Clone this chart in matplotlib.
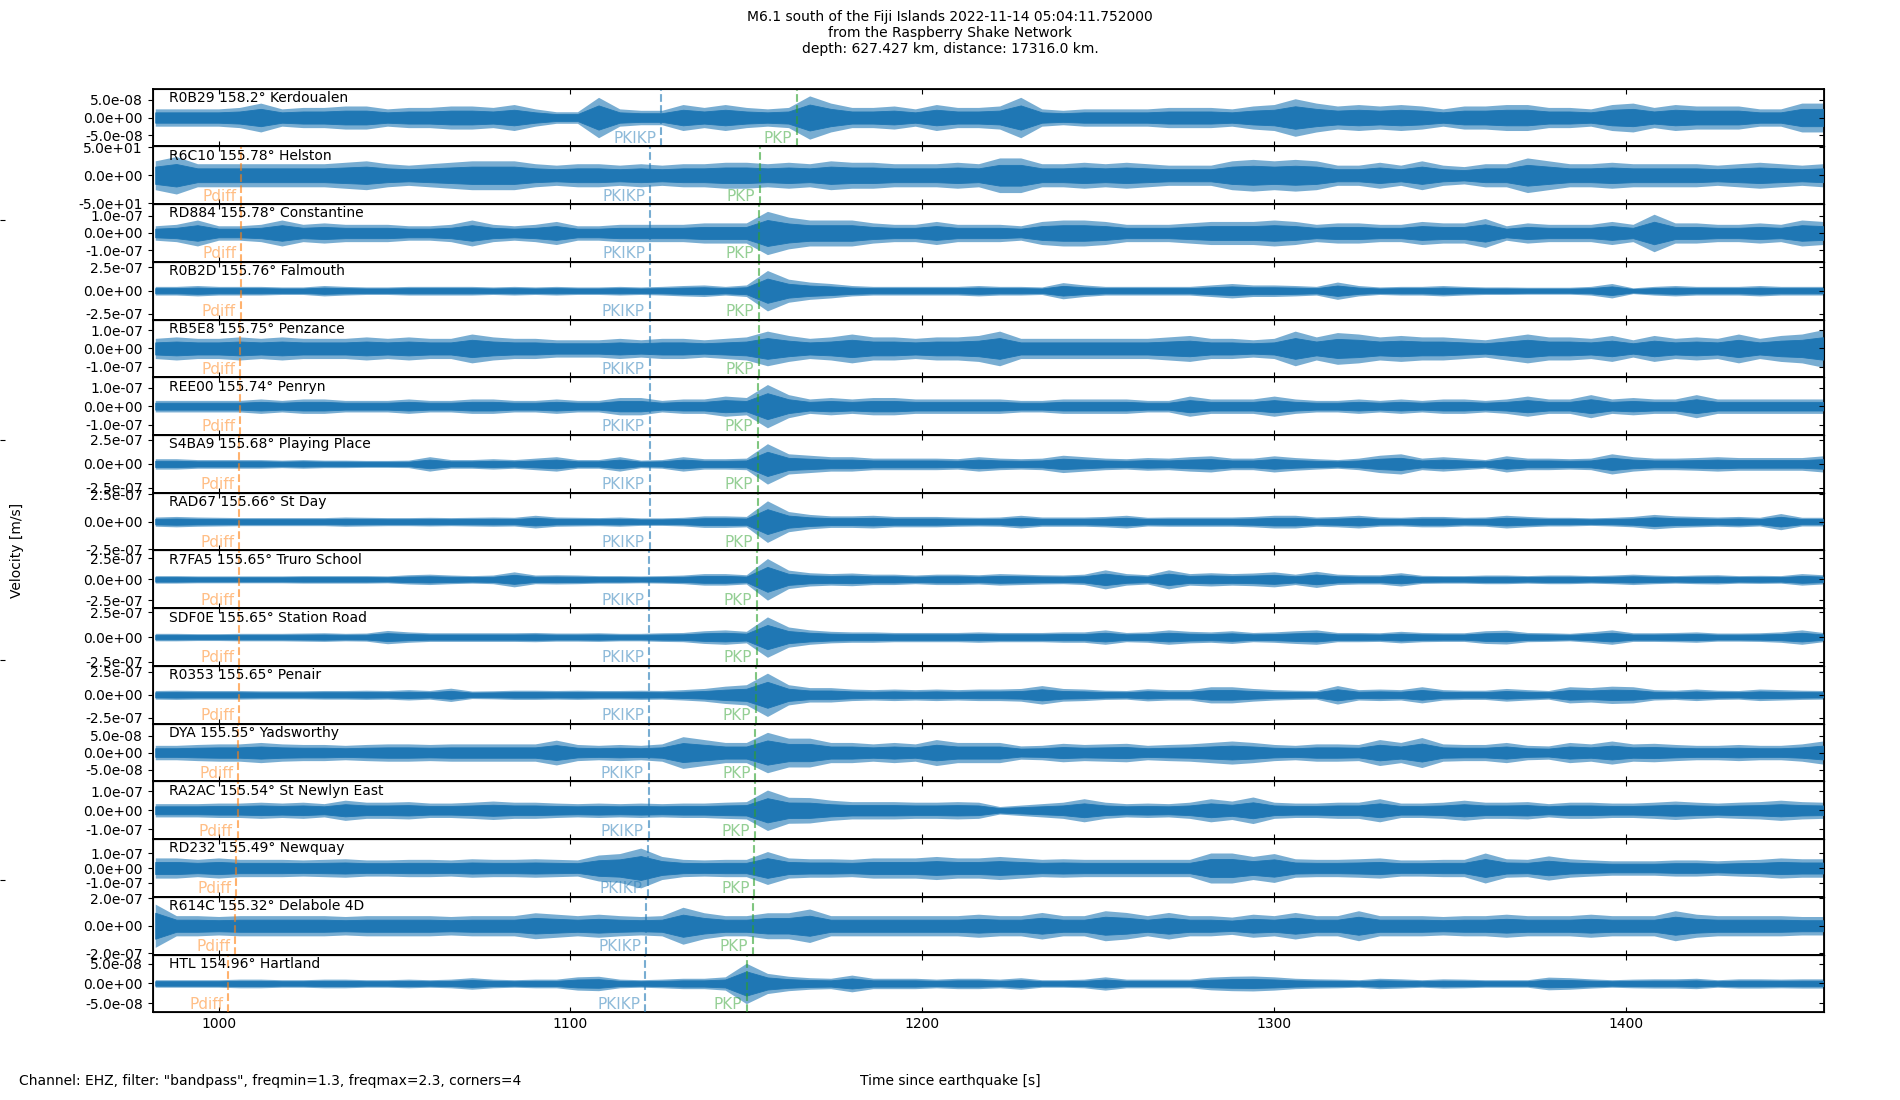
import numpy as np
import matplotlib
matplotlib.use("Agg")
import matplotlib.pyplot as plt
from matplotlib.ticker import FuncFormatter

# ---------------- data ----------------
station_labels = [
    "R0B29 158.2° Kerdoualen", "R6C10 155.78° Helston", "RD884 155.78° Constantine",
    "R0B2D 155.76° Falmouth", "RB5E8 155.75° Penzance", "REE00 155.74° Penryn",
    "S4BA9 155.68° Playing Place", "RAD67 155.66° St Day", "R7FA5 155.65° Truro School",
    "SDF0E 155.65° Station Road", "R0353 155.65° Penair", "DYA 155.55° Yadsworthy",
    "RA2AC 155.54° St Newlyn East", "RD232 155.49° Newquay", "R614C 155.32° Delabole 4D",
    "HTL 154.96° Hartland",
]

# labelled y tick value (+/-) and axis half-range per trace
ytick_value = [5e-8, 50, 1e-7, 2.5e-7, 1e-7, 1e-7, 2.5e-7, 2.5e-7, 2.5e-7, 2.5e-7,
               2.5e-7, 5e-8, 1e-7, 1e-7, 2e-7, 5e-8]
y_half_range = [8.15e-8, 52, 1.68e-7, 3.1e-7, 1.59e-7, 1.56e-7, 3.0e-7, 2.63e-7, 3.43e-7,
                2.9e-7, 3.13e-7, 8.5e-8, 1.51e-7, 1.96e-7, 2.1e-7, 7.25e-8]

# phase arrival times [s] (None = not shown)
pdiff_time = [None, 1006.5, 1006.4, 1006.3, 1006.2, 1006.1, 1005.9, 1005.9, 1005.8,
              1005.8, 1005.8, 1005.5, 1005.4, 1005.0, 1004.7, 1002.8]
pkikp_time = [1125.8, 1122.6, 1122.6, 1122.5, 1122.5, 1122.5, 1122.5, 1122.5, 1122.4,
              1122.4, 1122.4, 1122.2, 1122.2, 1122.0, 1121.6, 1121.3]
pkp_time = [1164.5, 1153.9, 1153.6, 1153.5, 1153.5, 1153.4, 1153.2, 1153.2, 1153.1,
            1153.1, 1152.8, 1152.6, 1152.5, 1152.3, 1151.8, 1150.1]

# sample times of the envelope readings [s]
sample_times = list(range(982, 1457, 6))

# peak amplitude envelopes, in tenths of each axis half-range
env_R0B29 = [3,3,3,3,3.5,5,3,3.5,3.5,4, 4,3,3.5,3.5,4,4,3.5,4.5,3,2, 2,7,3,2.5,2.5,4.5,3.5,4.5,3.5,3,
             3.5,7.5,5,3.5,3.5,4,3,4.5,3.5,3.5,4,
             7,3,2.5,3,3,3,3,3.5,3.5,3.5, 3,4,4.5,6.5,5,4,4.5,4,4.5,4, 3,4,4,4.5,4.5,3.5,3.5,3,4.5,5,
             3.5,4.5,4,4,4,3,3,5,5]
env_R6C10 = [5,6.5,4,4,4,4,4,4,4,4.5, 5,4,3.5,4,4.5,5,5,5,4,3.5, 4,4,3.5,4,3.5,4,4,4.5,4.5,4,
             4.5,4,5,4.5,4.5,4,4,4,4.5,4,6,
             6,4,4,4.5,4,4.5,4,3.5,3.5,3.5, 5,5.5,5,5.5,5,3.5,3.5,4.5,3.5,5, 3.5,3,4,4,6,5,4,4,4.5,4,
             4,4,4,3.5,4,4.5,4,3.5,4]
env_RD884 = [2.5,3,4.5,2.5,2.5,3,4.5,3,3.5,3, 3,3,2.5,2.5,3,4.5,3,2.5,3,4, 2.5,2.5,3,3,3,3,3.5,3.5,3.5,7.5,
             5.5,4.5,4.5,4.5,3.5,3,3,4,3,3,3,
             2.5,4,4.5,4.5,4,3,3,3,3.5,4, 4,4,4.5,4,3,3.5,3.5,3,3,4, 3.5,3.5,5,2.5,3.5,3,3,3,4,3,
             6.5,3.5,3.5,3,3,3.5,3,4.5,4]
env_R0B2D = [1.5,1.5,1.8,1.5,1.5,1.5,1.3,1.3,1.8,1.5, 1.3,1.3,1.5,1.5,1.5,1.5,1.3,1.5,1.3,1.5,
             1.3,1.3,1.5,1.3,1.5,1.8,2,1.5,2,7, 4,3,2.5,1.8,1.5,1.5,1.5,1.5,1.5,1.8,1.5,
             1.5,1.3,2.8,2,1.5,1.5,1.5,1.5,1.5,2, 2.5,2,2,1.8,1.5,3,1.8,1.3,1.5,1.5,
             1.8,1.5,1.3,1.3,1.2,1.2,1.2,1.5,2.5,1, 1.5,1.8,1.5,1.5,1.5,1.8,1.5,1.5,1.5]
env_RB5E8 = [3.5,4,3.5,3.5,4,3.5,4,3.5,3.5,3.5, 4,3.5,4,3.5,3.5,5,4,3.5,3.5,3, 3,3,3.5,3,3.5,3.5,3,3.5,4,6,
             4.5,3.5,4,5,4,4,3.5,4,4,4.5,6,
             3.5,3.5,3.5,3.5,3.5,3.5,3.5,4,4.5,3.5, 3.5,3,3.5,6,4,5.5,5,4,4.5,4, 4,3.5,3,4,5,4,4,3.5,4.5,3,
             4.5,3.5,4,3.5,5,3.5,4.5,5,6.5]
env_REE00 = [2,2,2,2,2,2.5,2,2.5,2.5,2, 2,2,2.5,2,2,2.5,2.5,2,2,2.5, 2,2,3,3,2,2.5,2.5,3.5,3,7.5,
             4,2.5,3,2.5,3,3,2.5,2.5,2.5,2.5,2.5,
             2,2,2.5,2.5,2.5,2.5,2,2,3.5,2.5, 2.5,2.5,3.5,2.5,2,2,2.5,2,2.5,2, 2.5,2.5,2,2.5,3.5,2.5,2.5,4,2.5,3,
             2.5,2.5,4,2.5,2.5,2.5,2.5,2.5,2.5]
env_S4BA9 = [1.8,1.8,1.5,1.5,1.5,1.5,1.3,1.5,1.3,1.3, 1.2,1.2,1.3,2.5,1.5,1.5,1.8,1.5,2,2.5,
             1.5,1.5,2.5,1.3,1.5,2.5,1.8,1.8,2,7, 3.5,3,2.5,2.5,2,2,2,2,1.8,2.5,2,
             1.8,2,3,2.5,2,1.8,2.2,2,2.5,2.8, 2,2,2.8,2.2,1.8,1.5,2,3,3.5,2, 2.5,2,1.5,2.8,2,2,1.8,2,3.5,2.5,
             2,2,2.2,2.5,2.2,2.2,2.2,2.2,2.8]
env_RAD67 = [1.6,1.8,1.6,1.5,1.4,1.4,1.4,1.4,1.4,1.6, 1.5,1.4,1.4,1.5,1.4,1.5,1.6,1.5,2.2,1.6,
             1.5,1.4,1.6,1.3,1.3,1.5,2,2,1.8,7.2, 3.5,2.5,2,2,2.2,1.8,1.8,1.8,1.6,1.5,1.6,
             2.2,1.6,1.6,1.6,1.8,2.2,1.5,1.6,1.6,1.6, 1.6,1.8,2.2,2.2,1.6,1.8,2.2,1.6,1.5,1.8,
             1.8,1.5,1.6,2.2,1.8,1.5,1.5,1.3,1.5,1.8, 2.5,2,1.8,1.6,1.8,1.5,2.8,1.5,1.5]
env_R7FA5 = [1.3,1.3,1.2,1.2,1.2,1.2,1.2,1.3,1.3,1.3, 1.3,1.2,1.6,1.8,1.5,1.3,1.5,2.6,1.5,1.6,
             1.5,1.3,1.3,1.2,1.3,1.5,2,2,1.6,7.2, 3.2,2.3,2,2.2,1.8,1.8,1.5,1.8,1.8,1.6,2,
             1.8,1.6,1.5,1.8,3.3,2,1.6,3.3,2,2.3, 2,2.2,2.6,1.8,2.8,1.8,1.6,1.6,2.3,1.4,
             1.3,1.3,1.5,1.5,1.3,1.5,1.5,1.3,1.5,1.8, 1.5,1.3,1.5,1.6,1.3,1.4,1.3,2,1.6]
env_SDF0E = [1.3,1.3,1.2,1.2,1.3,1.3,1.3,1.4,1.5,1.3, 1.4,2.3,1.8,1.5,1.5,1.5,1.5,1.5,1.6,1.4,
             1.4,1.5,1.3,1.3,1.5,1.6,2.2,2.5,2,7, 3.5,2.5,2,1.8,1.8,1.6,1.6,1.6,1.6,1.8,1.6,
             1.6,1.6,1.8,1.8,2.5,1.6,1.8,2.5,2,1.8, 2.2,1.6,1.8,2.2,2.5,1.6,1.6,1.5,2,1.6,
             1.5,1.5,2.2,2.4,1.6,1.5,1.3,1.8,2.5,1.5, 1.5,1.6,1.8,1.4,1.4,1.5,1.8,2.5,1.6]
env_R0353 = [1.5,1.6,1.5,1.5,1.5,1.4,1.4,1.4,1.5,1.5, 1.6,1.5,1.8,1.5,2.3,1.3,1.4,1.6,1.6,1.5,
             1.6,1.5,1.5,1.6,1.5,1.8,2.2,3,3.5,7.5, 3.5,2.5,2.5,2,1.8,2,1.8,2,1.8,2,2,
             2.2,3.2,2.2,2,1.6,1.5,2.1,1.8,1.8,2.8, 2.8,2.2,1.8,1.6,1.5,3.2,1.8,2,1.8,2.8,
             1.8,1.6,1.6,2.2,1.8,1.5,2.8,2.5,3,2.8, 1.8,1.6,2,1.6,1.5,2,1.8,1.6,1.5]
env_DYA = [2.5,2.5,2.8,3,3,3.5,3,2.8,2.8,2.5, 2.8,3,3,2.8,3,3,3,3,3,4.3, 2.8,2.5,2.8,2.5,3,5.5,4.5,3.5,3.5,7,
           5,5,3.5,3.5,3,3.5,3,4.5,3.5,3.5,3.5,
           2.3,2.5,3.2,2.8,3,3.2,2.5,2.8,3,3.5, 4,3.5,2.8,2.5,3,3,2.8,4.5,3.5,5.2, 3,2.8,2.8,3.5,2.5,2.3,3.5,3,4,3,
           3.2,2.8,2.5,2.5,2.8,2.5,2.5,3,4]
env_RA2AC = [2.3,2.3,2.3,2.5,2.5,2.8,2.5,2.8,2.3,3.5, 2.8,2.8,3,2.5,2.5,2.8,3.2,2.8,2.8,2.5,
             2.3,2.5,2.3,2.5,2.3,2.5,2.5,2.8,3,7, 4.5,4.4,3.5,3,3,3,2.8,2.8,3,2.8,1.3,
             1.8,2.3,2.8,4,2.8,2.3,2.5,2.3,2.8,4, 3.2,4.6,2.8,2.5,2.5,2.8,2.8,4,2.5,2.5,
             2.8,3.5,2.8,2.8,3,2.3,2.8,2.8,2.5,2.5, 2.8,3.2,2.8,2.5,2.8,3,3.5,3,2.8]
env_RD232 = [3.5,3.5,3,3.5,3,3,3,2.8,3,3.2, 2.8,2.8,3,3,2.8,3.2,3,3,3.2,3, 2.8,4.5,5,6.9,4,3,2.8,3,3,5.7,
             3.5,3.2,3.2,3,3.5,3.5,3.5,4,3.5,3.5,4,
             3.5,3,3.2,3,3,3,3,3,3,5.2, 5.2,4,5,3.2,3,3,3.2,3.5,2.8,2.8, 3,3,5.2,3.2,3,4.2,3.2,2.8,2.5,2.5,
             2.5,2.8,2.8,2.5,2.8,3,3.5,3.2,3.2]
env_R614C = [7.5,3.5,3.5,3.2,3.5,3.5,3.5,3.5,3.5,3.2, 3.5,3.5,3.5,3.5,3.2,3.5,3.5,3.5,4.5,4,
             3.5,4,3.5,3.2,3.5,6.4,4.5,3.5,3.5,4.5, 4.5,5.8,3.5,3.5,3.5,3.5,3.5,3.5,3.5,4,3.5,
             3.5,4.6,3.5,3.5,5.2,4.6,3.5,4.6,3.5,3.5, 3,4,3.5,4.6,3.5,3.5,5.2,3.5,3.5,3.5,
             3.2,3.5,3.5,4,3.5,3.5,3.5,4,3.5,3.5, 3.5,5.2,4,3.5,3.5,3.5,3.5,3.2,3.2]
env_HTL = [1.3,1.3,1.3,1.3,1.5,1.5,1.3,1.3,1.5,1.5, 1.3,1.3,1.5,1.3,1.5,2,1.5,1.3,1.5,1.5,
           2.3,2.5,1.5,1.3,1.5,1.8,1.8,2.3,7,3.5, 2.5,2,1.8,2.9,1.8,1.8,1.8,1.5,1.8,1.8,1.5,
           2,1.3,1.3,1.5,2.3,1.5,1.5,1.5,1.5,2.2, 2.5,2.6,2.3,1.8,1.6,1.5,1.3,1.8,1.6,1.3,
           1.6,1.5,1.3,1.3,1.3,2.2,2,1.6,1.3,1.5, 1.6,1.6,1.8,1.3,1.6,1.6,1.5,1.6,1.6]

envelopes = [env_R0B29, env_R6C10, env_RD884, env_R0B2D, env_RB5E8, env_REE00, env_S4BA9,
             env_RAD67, env_R7FA5, env_SDF0E, env_R0353, env_DYA, env_RA2AC, env_RD232,
             env_R614C, env_HTL]

x_range = (981.3, 1456.3)
x_ticks = [1000, 1100, 1200, 1300, 1400]

title_text = ("M6.1 south of the Fiji Islands 2022-11-14 05:04:11.752000\n"
              "from the Raspberry Shake Network\n"
              "depth: 627.427 km, distance: 17316.0 km.")
footer_text = 'Channel: EHZ, filter: "bandpass", freqmin=1.3, freqmax=2.3, corners=4'

# ---------------- drawing ----------------
TRACE_C = "#1f77b4"
PDIFF_C = "#ff7f0e"
PKIKP_C = "#1f77b4"
PKP_C = "#2ca02c"

fig = plt.figure(figsize=(19, 11), dpi=100)

# background frame whose left ticks show at the figure edge
bg = fig.add_axes([0, 0, 1, 1], frameon=False, zorder=-5)
bg.set_xlim(0, 1); bg.set_ylim(0, 1)
bg.set_xticks([])
bg.set_yticks([0.2, 0.4, 0.6, 0.8])
bg.tick_params(axis="y", direction="in", labelleft=False)

axes = fig.subplots(len(envelopes), 1, sharex=True, gridspec_kw=dict(hspace=0))
fig.subplots_adjust(left=0.0804, right=0.96, top=0.9194, bottom=0.0797)

fmt = FuncFormatter(lambda v, p: f"{v:.1e}")
t = np.array(sample_times, dtype=float)

def phase(ax, tt, name, color):
    if tt is None:
        return
    ax.axvline(tt, color=color, ls="--", lw=1.5, alpha=0.6, zorder=4)
    ax.annotate(name, xy=(tt, 0), xycoords=ax.get_xaxis_transform(),
                xytext=(-3.5, 2.6), textcoords="offset points",
                ha="right", va="baseline", color=color, alpha=0.5, fontsize=11, zorder=5)

for i, ax in enumerate(axes):
    L = y_half_range[i]
    amp = np.array(envelopes[i]) / 10.0 * L
    ax.fill_between(t, -amp, amp, color=TRACE_C, alpha=0.6, lw=0, zorder=2)
    ax.fill_between(t, -0.6 * amp, 0.6 * amp, color=TRACE_C, lw=0.6, zorder=3)
    ax.set_ylim(-L, L)
    A = ytick_value[i]
    ax.set_yticks([-A, 0, A])
    ax.yaxis.set_major_formatter(fmt)
    ax.tick_params(axis="y", direction="out", labelsize=10, right=False)
    ax.tick_params(axis="x", direction="in", top=True, bottom=True, labelsize=10)
    # right-hand ticks pointing inwards
    axr = ax.twinx()
    axr.set_ylim(-L, L)
    axr.set_yticks([-A, 0, A])
    axr.tick_params(axis="y", direction="in", labelright=False)
    for sp in ax.spines.values():
        sp.set_linewidth(1.3)
    ax.text(0.01, 0.96, station_labels[i], transform=ax.transAxes, ha="left", va="top",
            fontsize=10, zorder=6)
    phase(ax, pdiff_time[i], "Pdiff", PDIFF_C)
    phase(ax, pkikp_time[i], "PKIKP", PKIKP_C)
    phase(ax, pkp_time[i], "PKP", PKP_C)

axes[-1].set_xlim(*x_range)
axes[-1].set_xticks(x_ticks)
for ax in axes[:-1]:
    ax.tick_params(axis="x", labelbottom=False)

fig.text(0.5, 0.991, title_text, ha="center", va="top", fontsize=10, multialignment="center")
fig.text(0.009, 0.5, "Velocity [m/s]", rotation=90, ha="center", va="center", fontsize=10)
fig.text(0.0102, 0.0175, footer_text, ha="left", va="center", fontsize=10)
fig.text(0.5, 0.0175, "Time since earthquake [s]", ha="center", va="center", fontsize=10)

fig.savefig("out.png", dpi=100)
